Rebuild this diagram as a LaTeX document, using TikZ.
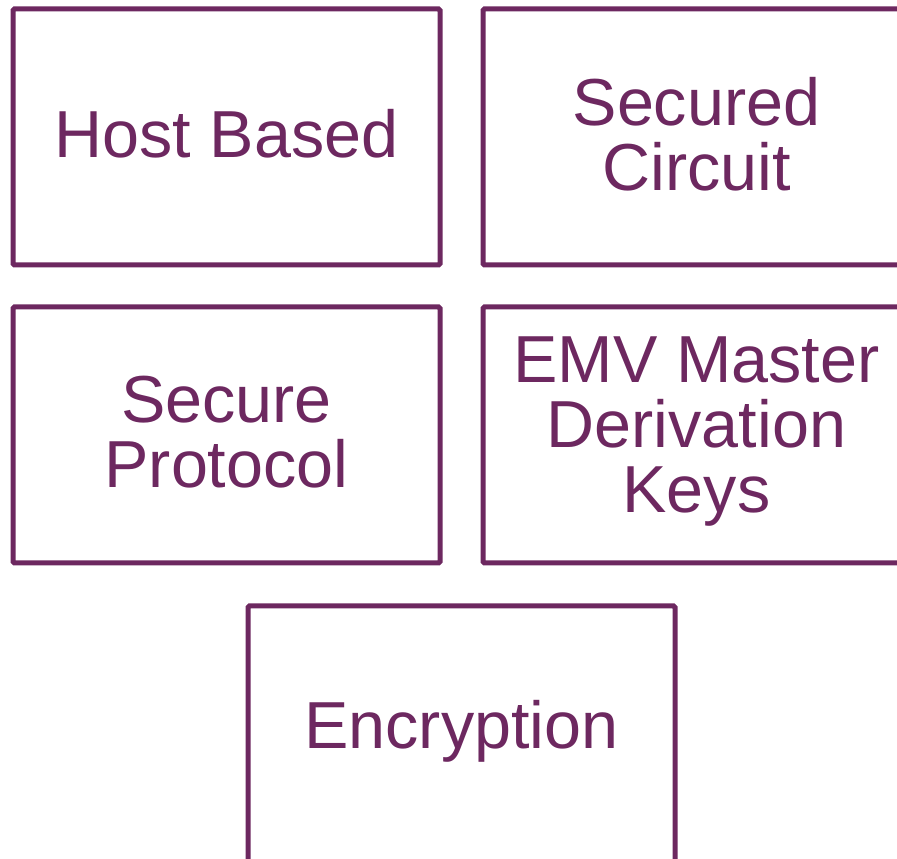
\documentclass[tikz,border=0pt]{standalone}
\usepackage{fontspec}
\setmainfont{Liberation Sans}
\definecolor{plum}{RGB}{109,40,96}
\begin{document}
\begin{tikzpicture}[x=1pt,y=1pt,
  card/.style={draw=plum, line width=5pt, rounded corners=1.5pt,
    minimum width=427pt, minimum height=256pt, inner sep=0pt},
  caption/.style={align=center, text=plum, inner sep=0pt, yshift=3pt,
    font={\fontsize{66.5}{65}\selectfont}}]
  \useasboundingbox (0,0) rectangle (897,859);
  \clip (0,0) rectangle (897,859);
  \node[card] (host)    at (226.5,722) {};
  \node[card] (circuit) at (696.5,722) {};
  \node[card] (proto)   at (226.5,424) {};
  \node[card] (emv)     at (696.5,424) {};
  \node[card] (enc)     at (461.5,125) {};
  \node[caption] (hostT)    at (host)    {Host Based};
  \node[caption] (circuitT) at (circuit) {Secured\\Circuit};
  \node[caption] (protoT)   at (proto)   {Secure\\Protocol};
  \node[caption] (emvT)     at (emv)     {EMV Master\\Derivation\\Keys};
  \node[caption] (encT)     at (enc)     {Encryption};
\end{tikzpicture}
\end{document}
